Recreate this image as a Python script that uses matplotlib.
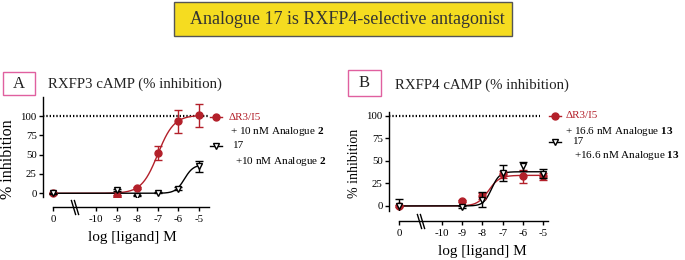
import numpy as np
import matplotlib
matplotlib.use("Agg")
import matplotlib.pyplot as plt
import matplotlib.transforms as mtransforms
from matplotlib.path import Path
from matplotlib.patches import Rectangle

plt.rcParams['font.family'] = ['Liberation Serif', 'DejaVu Serif']
plt.rcParams['mathtext.fontset'] = 'custom'
plt.rcParams['mathtext.rm'] = 'Liberation Serif'
plt.rcParams['mathtext.bf'] = 'Liberation Serif:bold'

RED = '#b3202a'
W, H = 685, 260

# ---- data (log [ligand] M, "0" = no ligand) ----
x_log = [0, -9, -8, -7, -6, -5]
tick_vals = [0, -10, -9, -8, -7, -6, -5]
tick_labels = ['0', '-10', '-9', '-8', '-7', '-6', '-5']

a_red = [0, -3.5, 6.5, 52.5, 93, 101]
a_red_err = [1, 1, 1.5, 9, 15, 15]
a_blk = [0, 4, -3, 1, 6, 35]
a_blk_err = [1, 1, 1, 1, 2, 7]

b_red = [0, 5.5, 11, 35, 33, 33]
b_red_err = [1, 1, 3, 4, 7, 4]
b_blk = [0, -1, 7, 37, 44, 36]
b_blk_err = [8, 1, 8, 9, 5, 5]

# fitted curves: bottom, top, logEC50, hill
a_red_fit = [0, 101, -7.0, 1.1]
a_blk_fit = [0, 37, -5.7, 2.0]
b_red_fit = [0, 34, -7.7, 1.6]
b_blk_fit = [0, 38, -7.55, 2.2]

ZERO_POS = -12.1   # where the "0" column sits on the axis
BREAK_POS = -11.05


def hill(x, p):
    bot, top, ec, h = p
    return bot + (top - bot) / (1 + 10 ** ((ec - x) * h))


def pos(xs):
    return [ZERO_POS if v == 0 else v for v in xs]


def px(x, y):
    return x / W, 1 - y / H


fig = plt.figure(figsize=(6.85, 2.6), dpi=100)

# title banner
fig.patches.append(Rectangle(px(174, 36), 338 / W, 34 / H, transform=fig.transFigure,
                             facecolor='#f5dc20', edgecolor='#555555', lw=1.0))
fig.text(*px(347, 19), 'Analogue 17 is RXFP4-selective antagonist', fontsize=13,
         color='#333333', ha='center', va='center')


def panel(rect, xlim, ylim, red, red_err, blk, blk_err, rfit, bfit, dot_end):
    ax = fig.add_axes(rect)
    ax.set_xlim(*xlim)
    ax.set_ylim(*ylim)
    for s in ['top', 'right']:
        ax.spines[s].set_visible(False)
    ax.spines['bottom'].set_position(('outward', 7.2))
    ax.spines['bottom'].set_bounds(ZERO_POS, xlim[1])
    for s in ['left', 'bottom']:
        ax.spines[s].set_linewidth(1.0)
    ax.tick_params(width=1.0, length=3, labelsize=7.8, direction='out')
    ax.tick_params(axis='x', pad=2.5)
    ax.tick_params(axis='y', pad=1.5)
    ax.set_xticks(pos(tick_vals))
    ax.set_xticklabels(tick_labels)
    ax.set_yticks([0, 25, 50, 75, 100])

    ax.plot([xlim[0], dot_end], [100, 100], color='black', lw=1.6,
            linestyle=(0, (0.6, 0.9)), zorder=1)

    xx = np.linspace(ZERO_POS, -5, 300)
    ax.plot(xx, hill(xx, rfit), color=RED, lw=1.0, zorder=2)
    ax.plot(xx, hill(xx, bfit), color='black', lw=1.0, zorder=3)
    ax.errorbar(pos(x_log), red, yerr=red_err, fmt='o', color=RED, ms=5,
                elinewidth=1.0, capsize=3, capthick=1.0, zorder=4)
    ax.errorbar(pos(x_log), blk, yerr=blk_err, fmt='v', color='black', mfc='white',
                mew=1.0, ms=4.6, elinewidth=1.0, capsize=3, capthick=1.0, zorder=5)

    # axis break marks
    trans = mtransforms.offset_copy(ax.get_xaxis_transform(), fig=fig, y=-7.2, units='points')
    brk = Path([(-0.3, 1), (0.3, -1)], [Path.MOVETO, Path.LINETO])
    for dx in (-0.08, 0.08):
        ax.plot([BREAK_POS + dx], [0], marker=brk, ms=11, mew=1.0, color='black',
                transform=trans, clip_on=False, zorder=6)
    return ax


panel([43 / W, 1 - 197 / H, 166 / W, 100 / H], (-12.6, -4.5), (-4.8, 124.6),
      a_red, a_red_err, a_blk, a_blk_err, a_red_fit, a_blk_fit, -4.5)
panel([389 / W, 1 - 211 / H, 159 / W, 99 / H], (-12.6, -4.77), (-5.6, 104.4),
      b_red, b_red_err, b_blk, b_blk_err, b_red_fit, b_blk_fit, -5.16)

# panel letters and titles
for (bx, by, bw, bh), letter, (tx, ty), title in [
        ((3, 72, 32, 23), 'A', (48, 84), 'RXFP3 cAMP (% inhibition)'),
        ((348, 70, 33, 26), 'B', (395, 85), 'RXFP4 cAMP (% inhibition)')]:
    fig.patches.append(Rectangle(px(bx, by + bh), bw / W, bh / H, transform=fig.transFigure,
                                 facecolor='white', edgecolor='#e0609f', lw=1.0))
    fig.text(*px(bx + bw / 2, by + bh / 2), letter, fontsize=12, ha='center', va='center',
             color='#222222')
    fig.text(*px(tx, ty), title, fontsize=10.7, ha='left', va='center', color='#222222')

# axis labels
fig.text(*px(8, 159), '% inhibition', rotation=90, fontsize=11.5, ha='center', va='center')
fig.text(*px(354, 163), '% inhibition', rotation=90, fontsize=10, ha='center', va='center')
fig.text(*px(132, 237), 'log [ligand] M', fontsize=11, ha='center', va='center')
fig.text(*px(482, 252), 'log [ligand] M', fontsize=11, ha='center', va='center')


# manual legends
def legend_entry(mx, my, marker, color, mfc, ms):
    fig.lines.append(plt.Line2D([(mx - 6) / W, (mx + 6) / W], [1 - my / H, 1 - my / H],
                                transform=fig.transFigure, color=color, lw=1.0))
    fig.lines.append(plt.Line2D([mx / W], [1 - my / H], transform=fig.transFigure,
                                marker=marker, color=color, mfc=mfc, ms=ms, mew=1.0))


legend_entry(216, 117, 'o', RED, RED, 5)
fig.text(*px(229, 117), 'ΔR3/I5', fontsize=8, color=RED, va='center')
fig.text(*px(230, 132), r'+ 10 nM Analogue $\mathbf{2}$', fontsize=8, va='center')
legend_entry(216, 146, 'v', 'black', 'white', 4.4)
fig.text(*px(233, 146), '17', fontsize=8, va='center')
fig.text(*px(235, 161), r'+10 nM Analogue $\mathbf{2}$', fontsize=8, va='center')

legend_entry(555, 116, 'o', RED, RED, 5)
fig.text(*px(566, 116), 'ΔR3/I5', fontsize=8, color=RED, va='center')
fig.text(*px(565, 131), r'+ 16.6 nM Analogue $\mathbf{13}$', fontsize=8, va='center')
legend_entry(555, 142, 'v', 'black', 'white', 4.4)
fig.text(*px(573, 142), '17', fontsize=8, va='center')
fig.text(*px(574, 156), r'+16.6 nM Analogue $\mathbf{13}$', fontsize=8, va='center')

fig.savefig('out.png', dpi=100)
